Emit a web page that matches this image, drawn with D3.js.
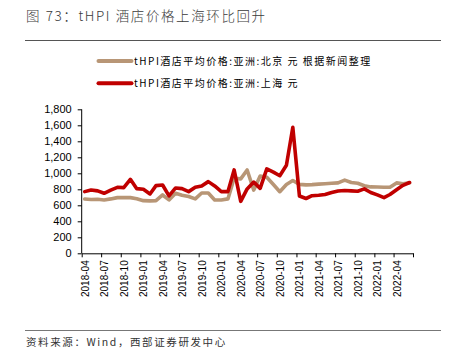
<!DOCTYPE html>
<html>
<head>
<meta charset="utf-8">
<script src="https://cdn.jsdelivr.net/npm/d3@7"></script>
<style>
  html, body { margin: 0; padding: 0; background: #fff; }
  svg { display: block; }
  text { font-family: "Liberation Sans", Arial, "Noto Sans CJK SC", sans-serif; }
  .cjk { font-family: "Noto Sans CJK SC", "Liberation Sans", sans-serif; }
</style>
</head>
<body>
<svg id="chart" width="452" height="349"></svg>
<script>
// Monthly hotel price index (tHPI), Asia, in yuan, 2018-04 .. 2022-06
const startMonth = "2018-04";
const beijing = [
  679, 672, 675, 667, 680, 696, 696, 696, 683, 658,
  655, 658, 729, 667, 750, 725, 710, 680, 754, 754,
  667, 667, 680, 938, 930, 1042, 790, 965, 950, 860,
  770, 860, 910, 862, 855, 858, 865, 870, 875, 880,
  915, 885, 875, 845, 830, 828, 825, 825, 880, 870,
  882
];
const shanghai = [
  771, 792, 780, 750, 790, 825, 821, 925, 808, 800,
  742, 846, 854, 717, 817, 808, 771, 825, 842, 896,
  842, 771, 771, 1042, 650, 805, 890, 812, 1055, 1015,
  970, 1100, 1575, 716, 685, 720, 725, 735, 760, 778,
  785, 780, 775, 805, 760, 730, 695, 735, 795, 850,
  885
];
const seriesNames = [
  "tHPI酒店平均价格:亚洲:北京 元 根据新闻整理",
  "tHPI酒店平均价格:亚洲:上海 元"
];
const seriesColors = ["#B89676", "#C00000"];
const yTicks = [0, 200, 400, 600, 800, 1000, 1200, 1400, 1600, 1800];
const xTickLabels = [
  "2018-04", "2018-07", "2018-10", "2019-01", "2019-04", "2019-07",
  "2019-10", "2020-01", "2020-04", "2020-07", "2020-10", "2021-01",
  "2021-04", "2021-07", "2021-10", "2022-01", "2022-04"
];
const axisEnd = "2022-07";
const titleText = "图 73：tHPI 酒店价格上海环比回升";
const sourceText = "资料来源：Wind，西部证券研发中心";

const parseMonth = d3.timeParse("%Y-%m");
const start = parseMonth(startMonth);
// each monthly value is plotted mid-month
const dates = beijing.map((_, i) => d3.timeDay.offset(d3.timeMonth.offset(start, i), 14));

const svg = d3.select("#chart");
const plot = { left: 81.7, right: 413, top: 109.3, bottom: 253.3 };

const x = d3.scaleTime()
  .domain([start, parseMonth(axisEnd)])
  .range([plot.left, plot.right]);
const y = d3.scaleLinear()
  .domain([0, 1800])
  .range([plot.bottom, plot.top]);

// title and rules
svg.append("text").attr("class", "cjk")
  .attr("x", 26).attr("y", 20.5)
  .attr("font-size", 13.5).attr("fill", "#3a3a3a")
  .attr("letter-spacing", 1.6)
  .attr("font-weight", 300)
  .text(titleText);
svg.append("line")
  .attr("x1", 25).attr("x2", 441).attr("y1", 40.5).attr("y2", 40.5)
  .attr("stroke", "#555").attr("stroke-width", 1);
svg.append("line")
  .attr("x1", 25).attr("x2", 441).attr("y1", 330.5).attr("y2", 330.5)
  .attr("stroke", "#777").attr("stroke-width", 1);
svg.append("text").attr("class", "cjk")
  .attr("x", 26).attr("y", 345.5)
  .attr("font-size", 10.5).attr("fill", "#333")
  .attr("letter-spacing", 1.6)
  .text(sourceText);

// legend
const legend = svg.append("g");
seriesNames.forEach((name, i) => {
  const ly = 61 + i * 22.3;
  legend.append("line")
    .attr("x1", 98.5).attr("x2", 131.5).attr("y1", ly).attr("y2", ly)
    .attr("stroke", seriesColors[i]).attr("stroke-width", 4).attr("stroke-linecap", "round");
  legend.append("text").attr("class", "cjk")
    .attr("x", 134).attr("y", ly).attr("dy", "0.36em")
    .attr("font-size", 10).attr("fill", "#000")
    .attr("letter-spacing", 1.5)
    .text(name);
});

// y axis
const yAxis = d3.axisLeft(y)
  .tickValues(yTicks)
  .tickFormat(d3.format(","))
  .tickSize(4).tickPadding(6);
const gy = svg.append("g")
  .attr("transform", `translate(${plot.left},0)`)
  .call(yAxis);
gy.select(".domain").attr("stroke", "#000").attr("d", `M0,${plot.top}V${plot.bottom}`);
gy.selectAll(".tick line").attr("stroke", "#000");
gy.selectAll(".tick text").attr("font-size", 11).attr("fill", "#000")
  .attr("font-family", "Liberation Sans, Arial, sans-serif");

// x axis
const xTickDates = xTickLabels.map(parseMonth).concat([parseMonth(axisEnd)]);
const labelFor = new Map(xTickLabels.map(l => [parseMonth(l).getTime(), l]));
const xAxis = d3.axisBottom(x)
  .tickValues(xTickDates)
  .tickFormat(d => labelFor.get(d.getTime()) || "")
  .tickSize(4).tickSizeOuter(0);
const gx = svg.append("g")
  .attr("transform", `translate(0,${plot.bottom})`)
  .call(xAxis);
gx.select(".domain").attr("stroke", "#000");
gx.selectAll(".tick line").attr("stroke", "#000");
gx.selectAll(".tick text")
  .attr("font-size", 10).attr("fill", "#000")
  .attr("font-family", "Liberation Sans, Arial, sans-serif")
  .attr("text-anchor", "end")
  .attr("transform", "rotate(-90)")
  .attr("x", -7).attr("y", 3).attr("dy", "0.35em");

// series lines
const line = d3.line()
  .x((d, i) => x(dates[i]))
  .y(d => y(d));
[beijing, shanghai].forEach((vals, i) => {
  svg.append("path")
    .datum(vals)
    .attr("fill", "none")
    .attr("stroke", seriesColors[i])
    .attr("stroke-width", 3.6)
    .attr("stroke-linejoin", "round")
    .attr("stroke-linecap", "round")
    .attr("d", line);
});
</script>
</body>
</html>
